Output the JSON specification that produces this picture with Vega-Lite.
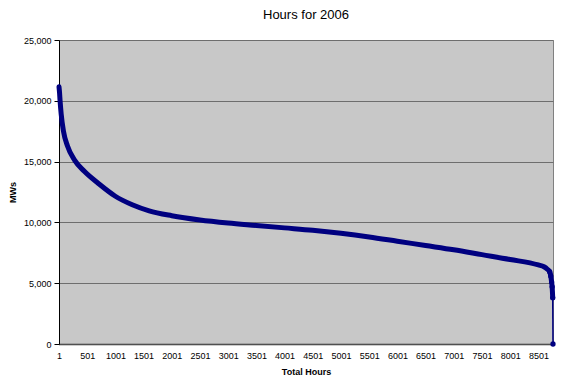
{
  "$schema": "https://vega.github.io/schema/vega-lite/v6.json",
  "autosize": {"type": "none"},
  "width": 494,
  "height": 304,
  "padding": {"left": 59, "top": 40, "right": 26, "bottom": 44},
  "background": "white",
  "title": {"text": "Hours for 2006", "font": "Liberation Sans", "fontSize": 13, "fontWeight": "normal", "color": "#000000", "offset": 14, "anchor": "middle"},
  "config": {
    "view": {"fill": "#c8c8c8", "stroke": "#808080", "strokeWidth": 1},
    "axis": {"labelFont": "Liberation Sans", "titleFont": "Liberation Sans", "labelColor": "#000000", "titleColor": "#000000", "labelFontSize": 9, "titleFontSize": 9, "titleFontWeight": "bold"}
  },
  "data": {"values": [
    {"hour": 1, "mw": 21150},
    {"hour": 10, "mw": 20700},
    {"hour": 20, "mw": 20000},
    {"hour": 40, "mw": 18900},
    {"hour": 80, "mw": 17500},
    {"hour": 150, "mw": 16300},
    {"hour": 280, "mw": 15100},
    {"hour": 450, "mw": 14200},
    {"hour": 700, "mw": 13200},
    {"hour": 1000, "mw": 12150},
    {"hour": 1300, "mw": 11450},
    {"hour": 1600, "mw": 10950},
    {"hour": 2000, "mw": 10550},
    {"hour": 2500, "mw": 10200},
    {"hour": 3000, "mw": 9950},
    {"hour": 3500, "mw": 9750},
    {"hour": 4000, "mw": 9550},
    {"hour": 4500, "mw": 9350},
    {"hour": 5000, "mw": 9100},
    {"hour": 5500, "mw": 8800},
    {"hour": 6000, "mw": 8450},
    {"hour": 6500, "mw": 8100},
    {"hour": 7000, "mw": 7750},
    {"hour": 7500, "mw": 7350},
    {"hour": 8000, "mw": 6950},
    {"hour": 8500, "mw": 6500},
    {"hour": 8600, "mw": 6350},
    {"hour": 8660, "mw": 6150},
    {"hour": 8700, "mw": 5950},
    {"hour": 8720, "mw": 5600},
    {"hour": 8735, "mw": 5100},
    {"hour": 8745, "mw": 4700},
    {"hour": 8755, "mw": 3800},
    {"hour": 8760, "mw": 0}
  ]},
  "encoding": {
    "x": {"field": "hour", "type": "quantitative",
      "scale": {"domain": [1, 8760], "nice": false, "zero": false},
      "axis": {"title": "Total Hours", "values": [1, 501, 1001, 1501, 2001, 2501, 3001, 3501, 4001, 4501, 5001, 5501, 6001, 6501, 7001, 7501, 8001, 8501],
        "format": "d", "grid": false, "ticks": false, "labelPadding": 7, "titlePadding": 7,
        "domainColor": "#333333", "domainWidth": 2, "domainDash": [1, 1], "labelFlush": false}},
    "y": {"field": "mw", "type": "quantitative",
      "scale": {"domain": [0, 25000], "nice": false},
      "axis": {"title": "MWs", "values": [0, 5000, 10000, 15000, 20000, 25000], "format": ",d",
        "grid": true, "gridColor": "#6e6e6e", "gridWidth": 1, "tickSize": 5, "tickColor": "#000000",
        "domainColor": "#000000", "labelPadding": 3, "titlePadding": 6}}
  },
  "layer": [
    {"transform": [{"filter": "datum.hour <= 8755"}],
     "mark": {"type": "line", "color": "#000080", "strokeWidth": 5, "strokeCap": "round", "strokeJoin": "round", "interpolate": "monotone"}},
    {"transform": [{"filter": "datum.hour >= 8755"}],
     "mark": {"type": "line", "color": "#000080", "strokeWidth": 1.5}},
    {"transform": [{"filter": "datum.hour >= 8700"}],
     "mark": {"type": "point", "filled": true, "color": "#000080", "opacity": 1, "size": 28}}
  ]
}
